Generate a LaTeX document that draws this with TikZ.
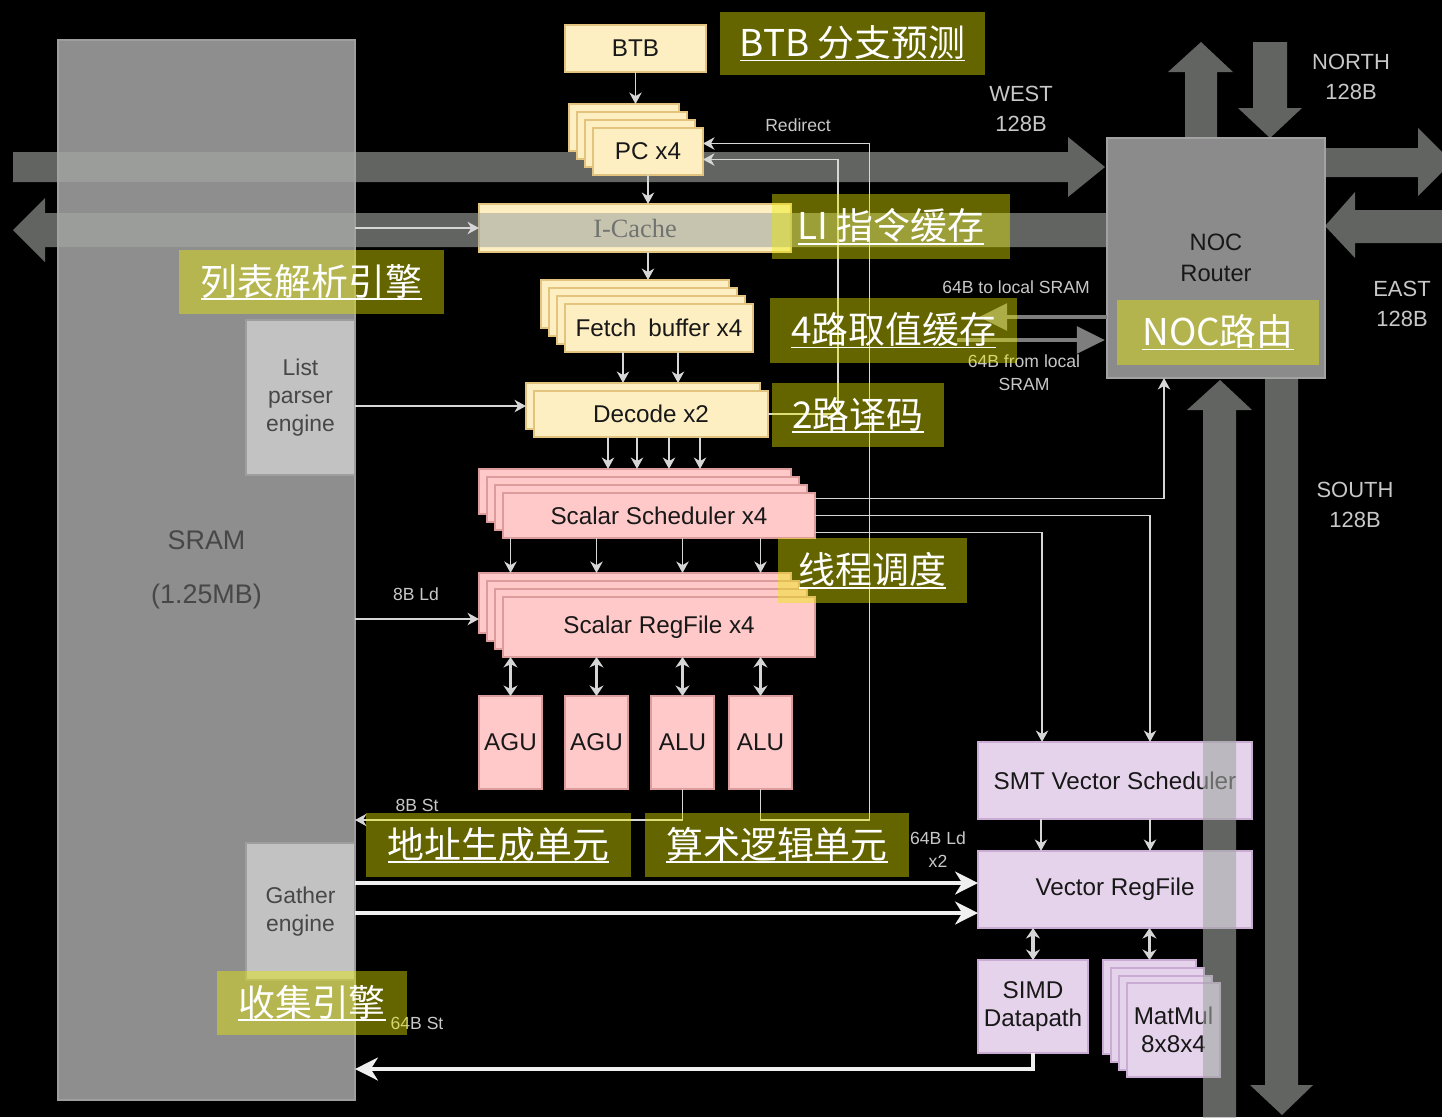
\documentclass[tikz,border=0pt]{standalone}
\usepackage{fontspec}
\setmainfont{Liberation Sans}
\newfontfamily\cjkf{Noto Sans CJK SC}
\newfontfamily\serf{Liberation Serif}
\usetikzlibrary{arrows.meta,calc}
\definecolor{ylw}{HTML}{FDEFC2}
\definecolor{ylwd}{HTML}{E2C47E}
\definecolor{pnk}{HTML}{FFC9C9}
\definecolor{pnkd}{HTML}{DC9C9C}
\definecolor{lil}{HTML}{E5D3EC}
\definecolor{lild}{HTML}{C9ABD3}
\definecolor{sramc}{HTML}{8E8E8E}
\definecolor{sramd}{HTML}{9E9E9E}
\definecolor{engc}{HTML}{C2C2C2}
\definecolor{nocc}{HTML}{8B8B8B}
\definecolor{nocd}{HTML}{A2A2A2}
\definecolor{bandc}{HTML}{A2A7A2}
\definecolor{notec}{HTML}{EBEB00}
\definecolor{lnc}{HTML}{D6D6D6}
\definecolor{labc}{HTML}{C8C8C8}
\definecolor{txt}{HTML}{181818}
\definecolor{gtxt}{HTML}{474747}
\definecolor{fatg}{HTML}{7E7E7E}
\newcommand\bxat[7]{\node[#1, minimum width={(#5-#3)*0.02cm}, minimum height={(#6-#4)*0.02cm}] (#2) at ({(#3+#5)/2},{(#4+#6)/2}) {#7};}
\newsavebox\ulbox
\newcommand\ulx[1]{\sbox\ulbox{#1}\rlap{\rule[-2.8pt]{\wd\ulbox}{1.1pt}}\usebox\ulbox}
\newcommand\lblf{\fontsize{13.8}{16}\selectfont}
\tikzset{
 base/.style={inner sep=0pt, outer sep=0pt, align=center, line width=1pt},
 ybox/.style={base, fill=ylw, draw=ylwd, text=txt, font=\lblf},
 pbox/.style={base, fill=pnk, draw=pnkd, text=txt, font=\lblf},
 vbox/.style={base, fill=lil, draw=lild, text=txt, font=\lblf},
 sbox/.style={base, fill=sramc, draw=sramd, text=black!72},
 ebox/.style={base, fill=engc, draw=sramd, text=gtxt, font=\fontsize{13}{16}\selectfont},
 band/.style={fill=bandc, fill opacity=0.6},
 note/.style={base, fill=notec, fill opacity=0.43, text opacity=1, text=white, font=\cjkf\fontsize{21}{24}\selectfont},
 conn/.style={draw=lnc, line width=1.1pt, -{Stealth[length=6.5pt,width=7pt,inset=2pt]}},
 dconn/.style={draw=lnc, line width=1.8pt, {Stealth[length=6pt,width=8pt]}-{Stealth[length=6pt,width=8pt]}},
 fat/.style={draw=white!94!black, line width=2.2pt, -{Stealth[length=13pt,width=13pt,inset=4pt]}},
 gfat/.style={draw=fatg, line width=2.8pt, -{Triangle[length=16pt,width=15pt]}},
 lab/.style={text=labc, font=\fontsize{10}{13}\selectfont, align=center, inner sep=0pt},
 blab/.style={text=labc, font=\fontsize{12.5}{17}\selectfont, align=center, inner sep=0pt},
}
\begin{document}
\begin{tikzpicture}[x=0.02cm,y=-0.02cm]
\useasboundingbox (0,0) rectangle (1442,1117);
\clip (0,0) rectangle (1442,1117);
\fill[black] (0,0) rectangle (1442,1117);
% memory side
\bxat{sbox, font=\fontsize{15.3}{31}\selectfont}{sram}{58}{40}{355}{1100}{\raisebox{-3.5pt}{SRAM}\\\raisebox{-3.5pt}{(1.25MB)}}
\bxat{ebox}{lp}{246}{320}{355}{475}{\raisebox{-2.5pt}{List}\\\raisebox{-2.5pt}{parser}\\\raisebox{-2.5pt}{engine}}
\bxat{ebox}{ga}{246}{843}{355}{980}{Gather\\engine}
\bxat{ybox, font=\serf\fontsize{15}{18}\selectfont, text=black!85}{ic}{479}{204}{791}{252}{I-Cache}
% west bands
\fill[band] (13,152) -- (1068,152) -- (1068,137) -- (1105,167) -- (1068,197) -- (1068,182) -- (13,182) -- cycle;
\fill[band] (1108,213) -- (45,213) -- (45,198) -- (13,230) -- (45,262) -- (45,247) -- (1108,247) -- cycle;
% NOC
\bxat{base, fill=nocc, draw=nocd, line width=1.5pt, text=txt, font=\fontsize{13.5}{17.6}\selectfont}{noc}{1107}{138}{1325}{378}{\raisebox{-1.5pt}{NOC}\\\raisebox{-1.5pt}{Router}}
\fill[band] (1185,138) -- (1185,72) -- (1168,72) -- (1201,42) -- (1233,72) -- (1217,72) -- (1217,138) -- cycle;
\fill[band] (1253,42) -- (1287,42) -- (1287,108) -- (1302,108) -- (1270,138) -- (1238,108) -- (1253,108) -- cycle;
\fill[band] (1325,148) -- (1418,148) -- (1418,128) -- (1452,162) -- (1418,196) -- (1418,177) -- (1325,177) -- cycle;
\fill[band] (1450,210) -- (1355,210) -- (1355,192) -- (1325,226) -- (1355,258) -- (1355,243) -- (1450,243) -- cycle;
\fill[band] (1265,378) -- (1298,378) -- (1298,1085) -- (1313,1085) -- (1282,1115) -- (1250,1085) -- (1265,1085) -- cycle;
% front end
\bxat{ybox}{btb}{565}{25}{706}{72}{BTB}
\bxat{ybox}{pcA}{569}{104}{679}{151}{}
\bxat{ybox}{pcB}{577}{112}{687}{159}{}
\bxat{ybox}{pcC}{585}{120}{695}{167}{}
\bxat{ybox}{pc}{593}{128}{703}{175}{PC x4}
\bxat{ybox}{fbA}{541}{280}{729}{328}{}
\bxat{ybox}{fbB}{549}{288}{737}{336}{}
\bxat{ybox}{fbC}{557}{296}{745}{344}{}
\bxat{ybox}{fb}{565}{304}{753}{352}{Fetch\enspace buffer x4}
\bxat{ybox}{decA}{526}{383}{760}{429}{}
\bxat{ybox}{dec}{534}{391}{768}{437}{Decode x2}
% scalar
\bxat{pbox}{schA}{479}{469}{791}{514}{}
\bxat{pbox}{schB}{487}{477}{799}{522}{}
\bxat{pbox}{schC}{495}{485}{807}{530}{}
\bxat{pbox}{sch}{503}{493}{815}{538}{Scalar Scheduler x4}
\bxat{pbox}{rfA}{479}{573}{791}{633}{}
\bxat{pbox}{rfB}{487}{581}{799}{641}{}
\bxat{pbox}{rfC}{495}{589}{807}{649}{}
\bxat{pbox}{rf}{503}{597}{815}{657}{Scalar RegFile x4}
\bxat{pbox}{agu1}{479}{696}{542}{789}{AGU}
\bxat{pbox}{agu2}{565}{696}{628}{789}{AGU}
\bxat{pbox}{alu1}{651}{696}{714}{789}{ALU}
\bxat{pbox}{alu2}{729}{696}{792}{789}{ALU}
% vector
\bxat{vbox}{smt}{978}{742}{1252}{819}{SMT Vector Scheduler}
\bxat{vbox}{vrf}{978}{851}{1252}{928}{Vector RegFile}
\bxat{vbox}{simd}{978}{960}{1088}{1053}{SIMD\\Datapath}
\bxat{vbox}{mmA}{1103}{960}{1196}{1054}{}
\bxat{vbox}{mmB}{1111}{968}{1204}{1062}{}
\bxat{vbox}{mmC}{1119}{976}{1212}{1070}{}
\bxat{vbox}{mm}{1127}{983}{1220}{1077}{MatMul\\8x8x4}
\fill[band] (1203,1120) -- (1203,410) -- (1187,410) -- (1220,380) -- (1252,410) -- (1236,410) -- (1236,1120) -- cycle;
% connectors
\draw[conn] (btb.south) -- (btb.south |- pcA.north);
\draw[conn] (pc.south) -- (pc.south |- ic.north);
\draw[conn] (pc.south |- ic.south) -- (pc.south |- fbA.north);
\draw[conn] ($(fb.south)+(-36,0)$) -- ($(fb.south)+(-36,31)$);
\draw[conn] ($(fb.south)+(19,0)$) -- ($(fb.south)+(19,31)$);
\draw[conn] (lp.east |- decA.west) -- (decA.west);
\foreach \dx in {-43,-14,18,49} \draw[conn] ($(dec.south)+(\dx,0)$) -- ($(dec.south)+(\dx,32)$);
\foreach \un in {agu1,agu2,alu1,alu2} {
  \draw[conn] (\un.north |- sch.south) -- (\un.north |- rfA.north);
  \draw[dconn] (\un.north |- rf.south) -- (\un.north);
}
\draw[conn] (sram.east |- ic.west) -- (ic.west);
\draw[conn] (sram.east |- rfC.west) -- (rfA.west |- rfC.west);
\draw[conn] (alu1.south) -- ++(0,31) coordinate (st8) -- (sram.east |- st8);
\draw[conn] (alu2.south) -- ++(0,31) -- ++(109,0) |- ($(pc.east)+(0,-8)$);
\draw[conn] (dec.east) -- ++(70,0) |- ($(pc.east)+(0,8)$);
\draw[conn] ($(sch.east)+(0,-17)$) -| ($(noc.south)+(-52,0)$);
\draw[conn] (sch.east) -| ($(smt.north)+(35,0)$);
\draw[conn] ($(sch.east)+(0,17)$) -| ($(smt.north)+(-73,0)$);
\draw[conn] ($(smt.south)+(-74,0)$) -- ($(vrf.north)+(-74,0)$);
\draw[conn] ($(smt.south)+(35,0)$) -- ($(vrf.north)+(35,0)$);
\draw[dconn] (simd.north |- vrf.south) -- (simd.north);
\draw[dconn] (mmA.north |- vrf.south) -- (mmA.north);
\draw[fat] ($(ga.east)+(0,-28.5)$) -- ($(vrf.west)+(0,-6.5)$);
\draw[fat] ($(ga.east)+(0,1.5)$) -- ($(vrf.west)+(0,23.5)$);
\draw[fat] (simd.south) |- ($(sram.east)+(0,499)$);
\draw[gfat] ($(noc.west)+(0,59)$) -- ++(-128,0);
\draw[gfat] ($(noc.west)+(-150,82)$) -- ($(noc.west)+(-2,82)$);
% labels
\node[lab] (lRed) at (798,125) {Redirect};
\node[lab] (l8ld) at (416,594) {8B Ld};
\node[lab] (l8st) at (417,805) {8B St};
\node[lab] (l64st) at (417,1023) {64B St};
\node[lab] (l64ld) at (938,850) {64B Ld\\x2};
\node[lab] (lto) at (1016,287) {64B to local SRAM};
\node[lab] (lfrom) at (1024,373) {64B from local\\SRAM};
\node[blab] (lw) at (1021,109) {WEST\\128B};
\node[blab] (ln) at (1351,77) {NORTH\\128B};
\node[blab] (le) at (1402,304) {EAST\\128B};
\node[blab] (ls) at (1355,505) {SOUTH\\128B};
% annotations
\bxat{note}{n1}{720}{12}{985}{75}{\ulx{BTB 分支预测}}
\bxat{note}{n2}{772}{194}{1010}{259}{\ulx{LI 指令缓存}}
\bxat{note}{n3}{179}{250}{444}{314}{\ulx{列表解析引擎}}
\bxat{note}{n4}{770}{298}{1017}{363}{\ulx{4路取值缓存}}
\bxat{note}{n5}{772}{383}{944}{447}{\ulx{2路译码}}
\bxat{note}{n6}{1117}{300}{1319}{365}{\ulx{NOC路由}}
\bxat{note}{n7}{778}{538}{967}{603}{\ulx{线程调度}}
\bxat{note}{n8}{366}{813}{631}{877}{\ulx{地址生成单元}}
\bxat{note}{n9}{645}{813}{909}{877}{\ulx{算术逻辑单元}}
\bxat{note}{n10}{217}{971}{407}{1035}{\ulx{收集引擎}}
\end{tikzpicture}
\end{document}
